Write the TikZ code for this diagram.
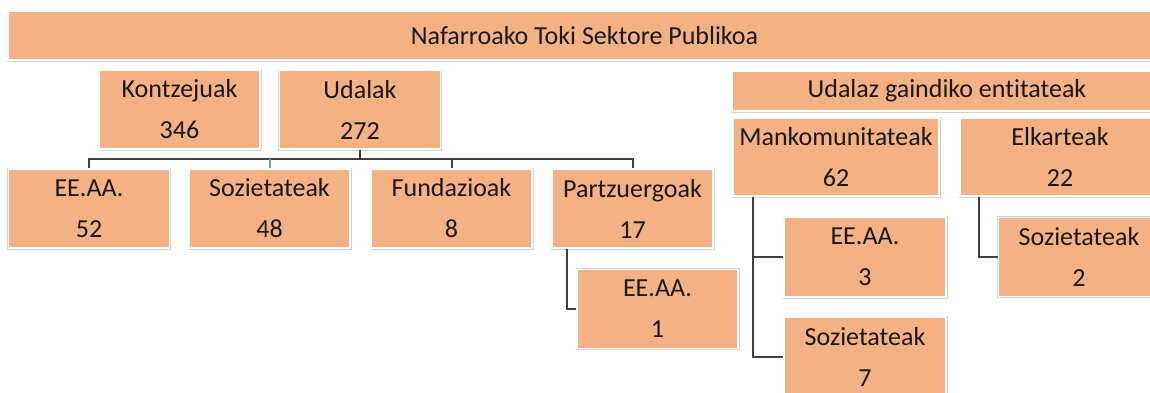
\documentclass[tikz,border=0pt]{standalone}
\usepackage{fontspec}
\setmainfont{Carlito}[Ligatures=NoCommon]
\usepackage{xcolor}
\usepackage{tikz}
\definecolor{boxfill}{RGB}{244,177,131}
\definecolor{boxedge}{RGB}{210,210,210}
\definecolor{linegray}{RGB}{64,64,64}
\definecolor{lineblue}{RGB}{110,150,190}

\begin{document}
\begin{tikzpicture}[x=1pt, y=-1pt,
    ent/.style={fill=boxfill, draw=white, line width=1.2pt,
        preaction={draw=boxedge, line width=3pt},
        minimum width=161pt, minimum height=79pt, inner sep=0pt,
        align=center, text=black!90, font=\fontsize{26}{41}\selectfont},
    conn/.style={draw=linegray, line width=2pt}]
                \useasboundingbox (0,0) rectangle (1150,392);
                \clip (0,0) rectangle (1150,392);
                \node[ent, minimum width=1153pt, minimum height=49pt] (publikoa) at (584.5,35.5) {Nafarroako Toki Sektore Publikoa};
                \node[ent] (kontzejuak) at (179.5,109.5) {Kontzejuak\\346};
                \node[ent] (udalak) at (360,109.5) {Udalak\\272};
                \foreach \name/\x/\txt/\num in {udeeaa/89/EE.AA./52, udsoz/269.5/Sozietateak/48, udfund/451.5/Fundazioak/8, udpartz/632.5/Partzuergoak/17}
                \node[ent] (\name) at (\x,208.5) {\txt\\\num};
                \node[ent] (partzeeaa) at (657.5,309) {EE.AA.\\1};
                \node[ent, minimum width=430pt, minimum height=40pt] (gaindiko) at (947,91) {Udalaz gaindiko entitateak};
                \node[ent, minimum width=206pt, minimum height=78pt] (manko) at (836,157) {Mankomunitateak\\62};
                \node[ent, minimum width=200pt, minimum height=78pt] (elkar) at (1060,157) {Elkarteak\\22};
                \node[ent, minimum width=162pt, minimum height=80pt] (mankoeeaa) at (865,257) {EE.AA.\\3};
                \node[ent, minimum width=162pt, minimum height=80pt] (mankosoz) at (865,357) {Sozietateak\\7};
                \node[ent] (elkarsoz) at (1079,257) {Sozietateak\\2};
                \foreach \c in {udeeaa,udfund,udpartz}
                \draw[conn] (udalak.south) -- ++(0,9.5) -| (\c.north);
                \draw[conn, draw=lineblue] (udsoz.north) -- ++(0,-9.5);
                \draw[conn] ([xshift=16pt]udpartz.south west) |- (partzeeaa.west);
                \foreach \c in {mankoeeaa,mankosoz}
                \draw[conn] ([xshift=21pt]manko.south west) |- (\c.west);
                \draw[conn] ([xshift=20pt]elkar.south west) |- (elkarsoz.west);
            \end{tikzpicture}
\end{document}
